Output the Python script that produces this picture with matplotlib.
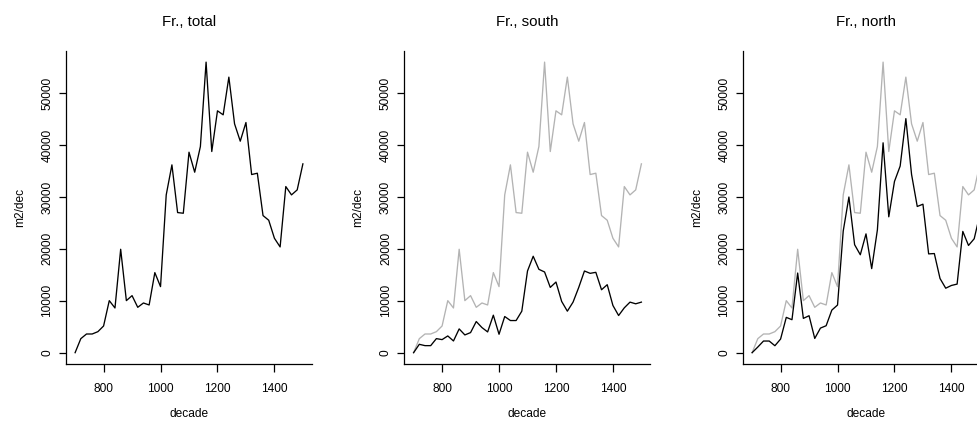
import matplotlib
matplotlib.use("Agg")
import matplotlib.pyplot as plt

plt.rcParams['font.family'] = ['Liberation Sans', 'DejaVu Sans']

decades = list(range(700, 1501, 20))
total = [0, 2699, 3599, 3599, 4049, 5142, 10026, 8612, 19924, 10026,
         10990, 8741, 9576, 9191, 15425, 12725, 30400, 36184, 26993, 26865,
         38626, 34770, 39719, 55979, 38755, 46596, 45824, 53087, 44089, 40747,
         44346, 34320, 34577, 26415, 25515, 22045, 20374, 32006, 30400, 31364,
         36377]
south = [0, 1613, 1355, 1355, 2709, 2516, 3225, 2258, 4580, 3419,
         3870, 5999, 4838, 3999, 7224, 3548, 6966, 6192, 6192, 7998,
         15738, 18576, 16061, 15545, 12578, 13610, 9869, 7998, 9740, 12578,
         15738, 15287, 15480, 12126, 13094, 9095, 7160, 8643, 9740, 9417,
         9740]
north = [0, 1086, 2244, 2244, 1340, 2626, 6801, 6354, 15344, 6607,
         7120, 2742, 4738, 5192, 8201, 9177, 23434, 29992, 20801, 18867,
         22888, 16194, 23658, 40434, 26177, 32986, 35955, 45089, 34349, 28169,
         28608, 19033, 19097, 14289, 12421, 12950, 13214, 23363, 20660, 21947,
         26637]

titles = ["Fr., total", "Fr., south", "Fr., north"]
xticks = [800, 1000, 1200, 1400]
yticks = [0, 10000, 20000, 30000, 40000, 50000]

W, H = 978, 423
fig = plt.figure(figsize=(W / 100, H / 100), dpi=100)

gray = "#b3b3b3"
lw = 0.95
fs_tick = 8.6
fs_title = 10.8

ax_left0 = 66
panel_step = 338.5
ax_w = 246
ax_top = 50.5
ax_bot = 364.3

series = [None, south, north]

for i in range(3):
    left = ax_left0 + i * panel_step
    ax = fig.add_axes([left / W, (H - ax_bot) / H, ax_w / W, (ax_bot - ax_top) / H])
    if i == 0:
        ax.plot(decades, total, color="black", lw=lw)
    else:
        ax.plot(decades, total, color=gray, lw=lw)
        ax.plot(decades, series[i], color="black", lw=lw)
    ax.margins(x=0.04, y=0.04)
    ax.set_xticks(xticks)
    ax.set_yticks(yticks)
    ax.set_yticklabels([str(v) for v in yticks])
    for sp in ("top", "right"):
        ax.spines[sp].set_visible(False)
    for sp in ("left", "bottom"):
        ax.spines[sp].set_linewidth(0.9)
    ax.tick_params(axis="both", direction="out", length=5.4, width=0.9,
                   labelsize=fs_tick, color="black")
    ax.tick_params(axis="x", pad=7.8)
    ax.tick_params(axis="y", pad=5.8)
    for lab in ax.get_yticklabels():
        lab.set_rotation(90)
        lab.set_rotation_mode("anchor")
        lab.set_ha("center")
        lab.set_va("baseline")
    cx = (left + ax_w / 2) / W
    fig.text(cx, 1 - 26.5 / H, titles[i], ha="center", va="baseline",
             fontsize=fs_title)
    fig.text(cx, 1 - 417 / H, "decade", ha="center", va="baseline",
             fontsize=fs_tick)
    fig.text((23 + i * panel_step) / W, 1 - ((ax_top + ax_bot) / 2) / H, "m2/dec",
             rotation=90, rotation_mode="anchor", ha="center", va="baseline",
             fontsize=fs_tick)

fig.savefig("out.png", dpi=100)
